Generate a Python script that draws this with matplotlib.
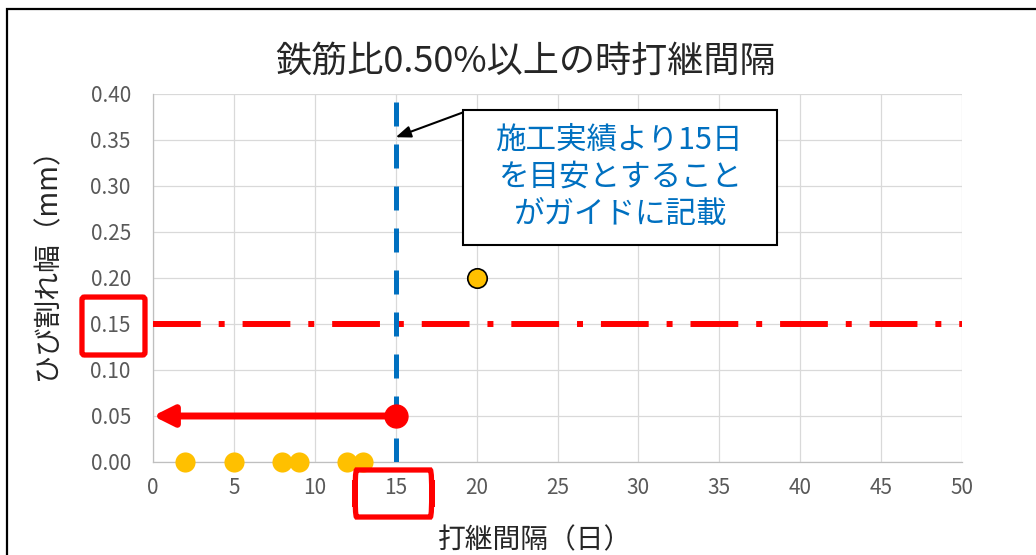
import matplotlib
matplotlib.use("Agg")
import matplotlib.pyplot as plt
from matplotlib.patches import Rectangle, FancyBboxPatch
from matplotlib.transforms import blended_transform_factory

plt.rcParams["font.family"] = ["Noto Sans CJK JP", "DejaVu Sans"]

# observed joints: interval (days) vs crack width (mm)
interval_days = [2, 5, 8, 9, 12, 13]
crack_width = [0.0, 0.0, 0.0, 0.0, 0.0, 0.0]
outlier_days = [20]
outlier_width = [0.20]

guide_days = 15          # guideline interval
limit_width = 0.15       # allowable crack width
target_point = (15, 0.05)

x_ticks = list(range(0, 51, 5))
y_ticks = [0.00, 0.05, 0.10, 0.15, 0.20, 0.25, 0.30, 0.35, 0.40]

W, H = 1036, 555
fig = plt.figure(figsize=(W / 100, H / 100), dpi=100)
ax = fig.add_axes([153 / W, 1 - 462 / H, 809 / W, 368 / H])

ax.set_xlim(0, 50)
ax.set_ylim(0, 0.40)
ax.set_xticks(x_ticks)
ax.set_yticks(y_ticks)
ax.set_yticklabels([f"{v:.2f}" for v in y_ticks])
ax.tick_params(length=0, labelsize=15, labelcolor="#595959")
ax.tick_params(axis="x", pad=11)
ax.tick_params(axis="y", pad=16)
ax.grid(color="#D9D9D9", lw=0.9)
ax.set_axisbelow(True)
for side in ("top", "right"):
    ax.spines[side].set_visible(False)
for side in ("left", "bottom"):
    ax.spines[side].set_color("#BFBFBF")
    ax.spines[side].set_linewidth(0.9)

# allowable width line and guideline interval
ax.axhline(limit_width, color="#FF0000", lw=4.3, dashes=(8, 3, 1, 3), zorder=3)
ax.axvline(guide_days, color="#0070C0", lw=3.6, dashes=(4.8, 3.6), zorder=3)

# data points
ax.plot(interval_days, crack_width, "o", ms=14.5, color="#FFC000", mec="none",
        clip_on=False, zorder=4)
ax.plot(outlier_days, outlier_width, "o", ms=14, color="#FFC000", mec="black",
        mew=1.2, zorder=4)

# arrow from target point back to the y axis
ax.annotate("", xy=(0, target_point[1]), xytext=target_point,
            arrowprops=dict(arrowstyle="-|>,head_length=1.2,head_width=0.6",
                            color="#FF0000", lw=5, shrinkA=0, shrinkB=0),
            zorder=5)
ax.plot(*target_point, "o", ms=16.5, color="#FF0000", zorder=6)

# callout box
box_x0, box_x1, box_y0, box_y1 = 19.16, 38.57, 0.236, 0.383
ax.add_patch(Rectangle((box_x0, box_y0), box_x1 - box_x0, box_y1 - box_y0,
                       facecolor="white", edgecolor="black", lw=1.5, zorder=7))
ax.text((box_x0 + box_x1) / 2, (box_y0 + box_y1) / 2,
        "施工実績より15日\nを目安とすること\nがガイドに記載",
        ha="center", va="center", fontsize=22, color="#0070C0",
        linespacing=1.25, zorder=8)
ax.annotate("", xy=(guide_days, 0.353), xytext=(box_x0, 0.380),
            arrowprops=dict(arrowstyle="-|>,head_length=0.9,head_width=0.35",
                            color="black", lw=1.5, shrinkA=0, shrinkB=0),
            zorder=8)

# highlight boxes around tick labels
ty = blended_transform_factory(ax.transAxes, ax.transData)
ax.add_patch(FancyBboxPatch((-0.0878, 0.1163), 0.0779, 0.063,
                            boxstyle="round,pad=0,rounding_size=0.003",
                            transform=ty, fill=False, edgecolor="#FF0000",
                            lw=3.8, clip_on=False, zorder=9))
tx = blended_transform_factory(ax.transData, ax.transAxes)
ax.add_patch(FancyBboxPatch((12.48, -0.1495), 4.76, 0.1278,
                            boxstyle="round,pad=0,rounding_size=0.1",
                            transform=tx, fill=False, edgecolor="#FF0000",
                            lw=3.8, clip_on=False, zorder=9))

fig.text(526 / W, 1 - 62 / H, "鉄筋比0.50%以上の時打継間隔", ha="center",
         va="center", fontsize=26, color="#262626")
fig.text(535 / W, 1 - 540 / H, "打継間隔（日）", ha="center", va="center",
         fontsize=20, color="#262626")
fig.text(47 / W, 1 - 257 / H, "ひび割れ幅（mm）", ha="center", va="center",
         rotation=90, fontsize=20, color="#262626")

# chart frame
fig.add_artist(Rectangle((7 / W, -0.1), 1.2, 1 - 9 / H + 0.1,
                         transform=fig.transFigure, fill=False,
                         edgecolor="black", lw=1.6))

fig.savefig("out.png", dpi=100)
